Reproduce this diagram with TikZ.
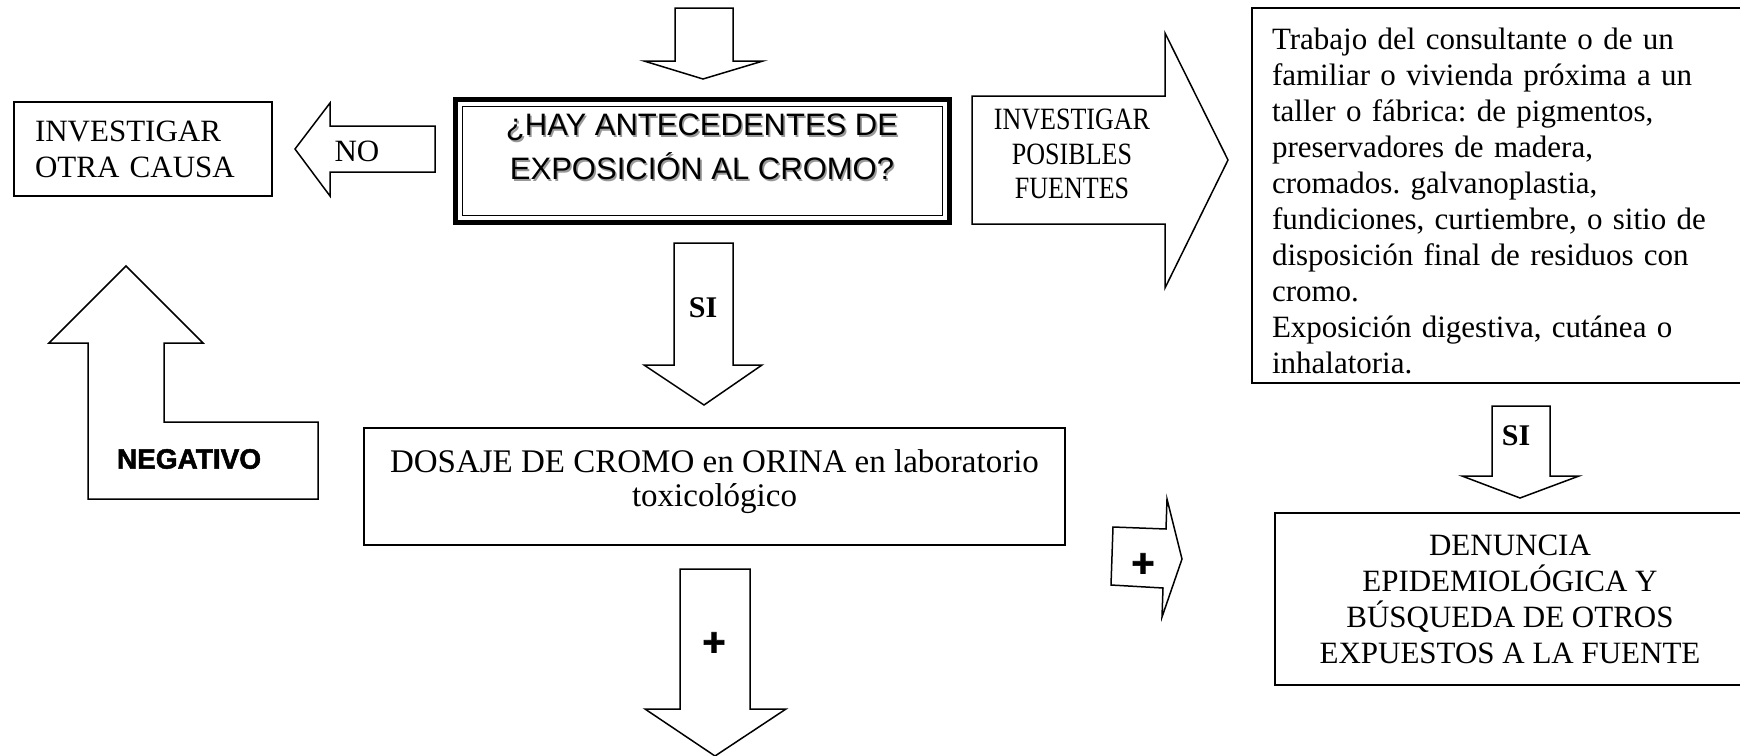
\documentclass[tikz,border=0pt]{standalone}
\usepackage{fontspec}
\usepackage{tikz}
\setmainfont{Liberation Serif}
\newfontfamily\arialfont{Liberation Sans}
\newfontfamily\narrowfont[FakeStretch=0.84]{Liberation Serif}
\newfontfamily\heavyfont[FakeBold=1.8]{Liberation Sans}
\newcommand{\shadowline}[1]{\rlap{\kern0.8pt\raisebox{-0.8pt}{\color{black!40}#1}}#1}
\frenchspacing

\begin{document}
\begin{tikzpicture}[x=0.5pt,y=0.5pt,yscale=-1,xscale=1,
  blockarrow/.style={draw, line width=0.75pt, line join=miter},
  textbox/.style={draw, line width=0.75pt},
  serif/.style={font=\fontsize{15.5}{18}\selectfont},
  boldlabel/.style={font=\fontsize{15}{18}\selectfont\bfseries},
  heavylabel/.style={font=\heavyfont\bfseries\fontsize{14}{17}\selectfont},
  pluslabel/.style={font=\heavyfont\bfseries\fontsize{20}{20}\selectfont}]
\useasboundingbox (0,0) rectangle (1740,755); %canvas 1740 x 755, y downwards

%Down Arrow [top]
\draw [blockarrow] (675,8) -- (733,8) -- (733,61) -- (763,61) -- (703,79) -- (644,61) -- (675,61) -- cycle ;

%Double Frame [question]
\draw (702.5,161) node (pregunta) [draw, line width=2.5pt, outer sep=0pt, minimum width=247pt, minimum height=61.5pt] {};
\draw [line width=0.65pt] ([shift={(7,7)}]pregunta.north west) rectangle ([shift={(-7,-7)}]pregunta.south east);
% Text Node
\draw (702,148) node (preguntatxt) [font=\arialfont\fontsize{15.5}{22}\selectfont, align=center] {\shadowline{¿HAY ANTECEDENTES DE}\\\shadowline{EXPOSICIÓN AL CROMO?}};

%Left Arrow [no]
\draw [blockarrow] (435,126) -- (330,126) -- (330,103) -- (295,149) -- (330,196) -- (330,172) -- (435,172) -- cycle ;
% Text Node
\draw (357,151) node (no) [serif] {NO};

%Text Box [other cause]
\draw (143,149) node (causa) [textbox, serif, minimum width=129pt, minimum height=47pt, text width=108pt, inner xsep=10.5pt, align=left] {INVESTIGAR\\OTRA CAUSA};

%Right Arrow [sources]
\draw [blockarrow] (972,96) -- (1165,96) -- (1165,33) -- (1228,160) -- (1165,288) -- (1165,224) -- (972,224) -- cycle ;
% Text Node
\draw (1072,154) node (fuentes) [font=\narrowfont\fontsize{15.5}{17.2}\selectfont, align=center] {INVESTIGAR\\POSIBLES\\FUENTES};

%Text Box [sources list]
\draw (1498.5,195.5) node (trabajo) [textbox, serif, minimum width=246.5pt, minimum height=187.5pt, text width=226.5pt, inner xsep=10pt, align=left] {\rule{0pt}{16pt}Trabajo del consultante o de un\\familiar o vivienda próxima a un\\taller o fábrica: de pigmentos,\\preservadores de madera,\\cromados. galvanoplastia,\\fundiciones, curtiembre, o sitio de\\disposición final de residuos con\\cromo.\\Exposición digestiva, cutánea o\\inhalatoria.};

%Up Arrow [negative]
\draw [blockarrow] (126,266) -- (203,343) -- (164,343) -- (164,422) -- (318,422) -- (318,499) -- (88,499) -- (88,343) -- (49,343) -- cycle ;
% Text Node
\draw (189,459) node (negativo) [heavylabel] {NEGATIVO};

%Down Arrow [yes]
\draw [blockarrow] (674,243) -- (733,243) -- (733,365) -- (762,365) -- (704,405) -- (644,365) -- (674,365) -- cycle ;
% Text Node
\draw (703,308) node (si) [boldlabel] {SI};

%Text Box [urine test]
\draw (714.5,486.5) node (dosaje) [textbox, font=\fontsize{16.5}{17}\selectfont, minimum width=350.5pt, minimum height=58.5pt, align=center] {DOSAJE DE CROMO en ORINA en laboratorio\\toxicológico\rule[-8.5pt]{0pt}{8.5pt}};

%Down Arrow [positive]
\draw [blockarrow] (680,569) -- (750,569) -- (750,709) -- (786,709) -- (715,756) -- (645,709) -- (680,709) -- cycle ;
% Text Node
\draw (714,644) node (masabajo) [pluslabel] {+};

%Right Arrow [positive]
\draw [blockarrow] (1113,527) -- (1166,529) -- (1167,499) -- (1182,559) -- (1162,617) -- (1163,588) -- (1111,585) -- cycle ;
% Text Node
\draw (1143,565) node (masderecha) [pluslabel] {+};

%Down Arrow [yes, right]
\draw [blockarrow] (1492,406) -- (1550,406) -- (1550,476) -- (1579,476) -- (1520,498) -- (1462,476) -- (1492,476) -- cycle ;
% Text Node
\draw (1516,436) node (sider) [boldlabel] {SI};

%Text Box [report]
\draw (1510,599) node (denuncia) [textbox, serif, minimum width=235pt, minimum height=86pt, align=center] {DENUNCIA\\EPIDEMIOLÓGICA Y\\BÚSQUEDA DE OTROS\\EXPUESTOS A LA FUENTE};
\end{tikzpicture}
\end{document}
